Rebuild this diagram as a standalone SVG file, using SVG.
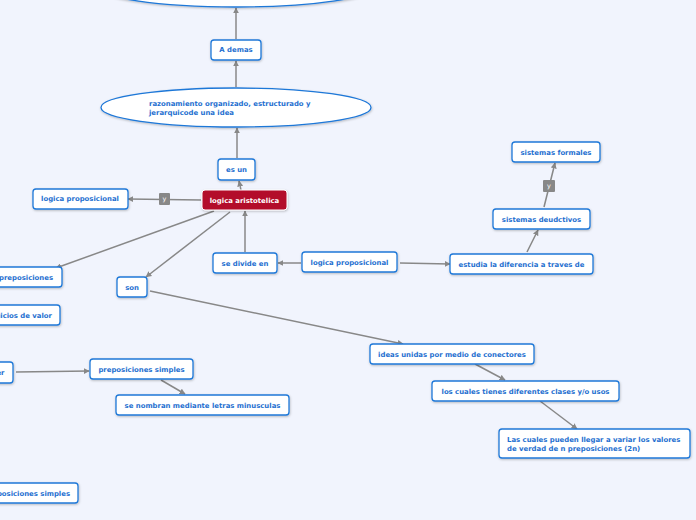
<svg xmlns="http://www.w3.org/2000/svg" width="696" height="520" viewBox="0 0 696 520">
<defs>
<style>
.n{fill:#fff;stroke:#1f78d8;stroke-width:1.3}
.t{font-family:"DejaVu Sans",sans-serif;font-weight:bold;font-size:6.9px;fill:#1e6fd0;text-anchor:middle;dominant-baseline:central}
.tl{text-anchor:start}
.te{text-anchor:end}
.c{stroke:#888;stroke-width:1.5;fill:none;marker-end:url(#a)}
.lb{fill:#888}
.lt{font-family:"DejaVu Sans",sans-serif;font-size:6.5px;fill:#fff;text-anchor:middle;dominant-baseline:central}
</style>
<marker id="a" viewBox="0 0 10 10" refX="9" refY="5" markerWidth="6" markerHeight="6" orient="auto" markerUnits="userSpaceOnUse"><path d="M0,0L10,5L0,10z" fill="#888"/></marker>
<filter id="s" x="-10%" y="-20%" width="120%" height="150%"><feDropShadow dx="0.5" dy="1" stdDeviation="0.8" flood-color="#000" flood-opacity="0.25"/></filter>
</defs>
<rect width="696" height="520" fill="#f1f4fd"/>
<g id="connectors">
<line class="c" x1="236" y1="39" x2="236" y2="8"/>
<line class="c" x1="236" y1="87" x2="236" y2="61"/>
<line class="c" x1="237" y1="158" x2="237" y2="128"/>
<line class="c" x1="241" y1="190" x2="239" y2="181"/>
<line class="c" x1="201" y1="200" x2="128" y2="199"/>
<line class="c" x1="214" y1="211" x2="56" y2="268"/>
<line class="c" x1="230" y1="212" x2="146" y2="277"/>
<line class="c" x1="245" y1="252" x2="245" y2="211"/>
<line class="c" x1="301" y1="263" x2="278" y2="263"/>
<line class="c" x1="400" y1="263" x2="450" y2="264"/>
<line class="c" x1="527" y1="252" x2="538" y2="230"/>
<line class="c" x1="544" y1="207" x2="555" y2="163"/>
<line class="c" x1="150" y1="291" x2="403" y2="344"/>
<line class="c" x1="16" y1="372" x2="89" y2="371"/>
<line class="c" x1="161" y1="380" x2="185" y2="394"/>
<line class="c" x1="475" y1="364" x2="505" y2="380"/>
<line class="c" x1="540" y1="401" x2="577" y2="429"/>
<rect class="lb" x="159" y="193" width="11" height="12" rx="1"/>
<text class="lt" x="164.5" y="199">y</text>
<rect class="lb" x="543" y="180" width="12" height="12" rx="1"/>
<text class="lt" x="549" y="186">y</text>
</g>
<g id="top"><ellipse class="n" cx="236" cy="-14" rx="140" ry="21" filter="url(#s)"/></g>
<g id="ademas"><rect class="n" x="211" y="40" width="50" height="20" rx="3" filter="url(#s)"/><text class="t" x="236" y="50">A demas</text></g>
<g id="razonamiento"><ellipse class="n" cx="236" cy="107.5" rx="135" ry="19.5" filter="url(#s)"/><text class="t tl" x="149" y="103.5">razonamiento organizado, estructurado y</text><text class="t tl" x="149" y="112.5">jerarquicode una idea</text></g>
<g id="esun"><rect class="n" x="218" y="159" width="37" height="21" rx="3" filter="url(#s)"/><text class="t" x="236.5" y="170">es un</text></g>
<g id="aristotelica"><rect x="202" y="190" width="85" height="20" rx="3" fill="#b30a2b" stroke="#fff" stroke-width="1" filter="url(#s)"/><text class="t" x="244.5" y="200.5" style="fill:#fff">logica aristotelica</text></g>
<g id="proposicional1"><rect class="n" x="33" y="189" width="95" height="20" rx="3" filter="url(#s)"/><text class="t" x="80" y="199">logica proposicional</text></g>
<g id="preposiciones"><rect class="n" x="-20" y="267" width="82" height="20" rx="3" filter="url(#s)"/><text class="t te" x="53" y="278">preposiciones</text></g>
<g id="juicios"><rect class="n" x="-30" y="305" width="90" height="20" rx="3" filter="url(#s)"/><text class="t te" x="52" y="315.5">juicios de valor</text></g>
<g id="son"><rect class="n" x="117" y="277" width="30" height="20" rx="3" filter="url(#s)"/><text class="t" x="132" y="287.5">son</text></g>
<g id="divide"><rect class="n" x="213" y="253" width="64" height="20" rx="3" filter="url(#s)"/><text class="t" x="245" y="263.5">se divide en</text></g>
<g id="proposicional2"><rect class="n" x="302" y="252" width="95" height="20" rx="3" filter="url(#s)"/><text class="t" x="349.5" y="262.5">logica proposicional</text></g>
<g id="estudia"><rect class="n" x="450" y="254" width="143" height="20" rx="3" filter="url(#s)"/><text class="t" x="521.5" y="264.5">estudia la diferencia a traves de</text></g>
<g id="deductivos"><rect class="n" x="493" y="209" width="97" height="20" rx="3" filter="url(#s)"/><text class="t" x="541.5" y="219.5">sistemas deudctivos</text></g>
<g id="formales"><rect class="n" x="512" y="142" width="88" height="20" rx="3" filter="url(#s)"/><text class="t" x="556" y="152.5">sistemas formales</text></g>
<g id="er"><rect class="n" x="-20" y="362" width="33" height="21" rx="3" filter="url(#s)"/><text class="t te" x="4.5" y="372.5">er</text></g>
<g id="simples"><rect class="n" x="90" y="359" width="103" height="20" rx="3" filter="url(#s)"/><text class="t" x="141.5" y="369.5">preposiciones simples</text></g>
<g id="nombran"><rect class="n" x="116" y="395" width="173" height="20" rx="3" filter="url(#s)"/><text class="t" x="202.5" y="405.5">se nombran mediante letras minusculas</text></g>
<g id="simples2"><rect class="n" x="-30" y="483" width="108" height="20" rx="3" filter="url(#s)"/><text class="t te" x="70" y="493.5">preposiciones simples</text></g>
<g id="ideas"><rect class="n" x="370" y="344" width="164" height="20" rx="3" filter="url(#s)"/><text class="t" x="452" y="354.5">ideas unidas por medio de conectores</text></g>
<g id="cuales"><rect class="n" x="432" y="381" width="187" height="20" rx="3" filter="url(#s)"/><text class="t" x="525.5" y="391.5">los cuales tienes diferentes clases y/o usos</text></g>
<g id="pueden"><rect class="n" x="499" y="429" width="191" height="29" rx="3" filter="url(#s)"/><text class="t tl" x="507" y="440">Las cuales pueden llegar a variar los valores</text><text class="t tl" x="507" y="448.5">de verdad de n preposiciones (2n)</text></g>
</svg>
